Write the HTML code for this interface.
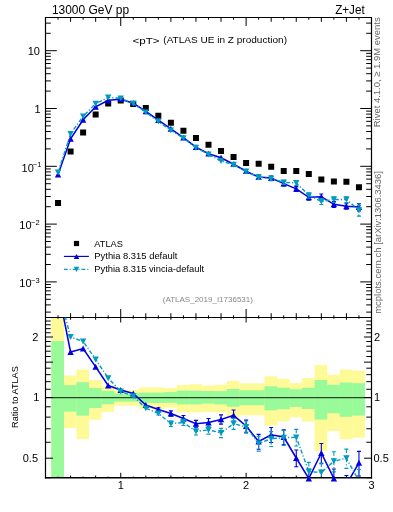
<!DOCTYPE html><html><head><meta charset="utf-8"><style>html,body{margin:0;padding:0;background:#fff;overflow:hidden;}svg{display:block;will-change:transform;}text{font-family:"Liberation Sans", sans-serif;}</style></head><body>
<svg width="393" height="512" viewBox="0 0 393 512">
<defs><clipPath id="cm"><rect x="45.5" y="17.5" width="326.0" height="300.0"/></clipPath><clipPath id="cr"><rect x="45.5" y="317.5" width="326.0" height="160.3"/></clipPath></defs>
<g clip-path="url(#cr)">
<rect x="51.27" y="317" width="12.74" height="160.00" fill="#fffa98"/>
<rect x="63.81" y="375.5" width="12.74" height="52.40" fill="#fffa98"/>
<rect x="76.35" y="369.5" width="12.74" height="69.50" fill="#fffa98"/>
<rect x="88.88" y="380" width="12.74" height="39.70" fill="#fffa98"/>
<rect x="101.42" y="386.5" width="12.74" height="25.40" fill="#fffa98"/>
<rect x="113.96" y="390" width="12.74" height="15.80" fill="#fffa98"/>
<rect x="126.50" y="390" width="12.74" height="15.80" fill="#fffa98"/>
<rect x="139.04" y="387.4" width="12.74" height="21.60" fill="#fffa98"/>
<rect x="151.57" y="387.4" width="12.74" height="21.60" fill="#fffa98"/>
<rect x="164.11" y="388" width="12.74" height="19.60" fill="#fffa98"/>
<rect x="176.65" y="385" width="12.74" height="27.40" fill="#fffa98"/>
<rect x="189.19" y="384.2" width="12.74" height="28.20" fill="#fffa98"/>
<rect x="201.73" y="385.6" width="12.74" height="26.40" fill="#fffa98"/>
<rect x="214.26" y="384.8" width="12.74" height="27.40" fill="#fffa98"/>
<rect x="226.80" y="380.9" width="12.74" height="36.00" fill="#fffa98"/>
<rect x="239.34" y="383.3" width="12.74" height="32.00" fill="#fffa98"/>
<rect x="251.88" y="383.3" width="12.74" height="32.00" fill="#fffa98"/>
<rect x="264.42" y="376.3" width="12.74" height="49.20" fill="#fffa98"/>
<rect x="276.95" y="378.7" width="12.74" height="42.70" fill="#fffa98"/>
<rect x="289.49" y="383" width="12.74" height="34.40" fill="#fffa98"/>
<rect x="302.03" y="378" width="12.74" height="43.50" fill="#fffa98"/>
<rect x="314.57" y="365" width="12.74" height="86.00" fill="#fffa98"/>
<rect x="327.11" y="374.7" width="12.74" height="56.30" fill="#fffa98"/>
<rect x="339.64" y="369.5" width="12.74" height="69.80" fill="#fffa98"/>
<rect x="352.18" y="370.6" width="12.74" height="67.00" fill="#fffa98"/>
<rect x="51.27" y="341" width="12.74" height="136.00" fill="#98fa98"/>
<rect x="63.81" y="385.2" width="12.74" height="26.40" fill="#98fa98"/>
<rect x="76.35" y="382.2" width="12.74" height="33.40" fill="#98fa98"/>
<rect x="88.88" y="388" width="12.74" height="20.00" fill="#98fa98"/>
<rect x="101.42" y="390.9" width="12.74" height="13.40" fill="#98fa98"/>
<rect x="113.96" y="393.4" width="12.74" height="8.20" fill="#98fa98"/>
<rect x="126.50" y="393.4" width="12.74" height="8.20" fill="#98fa98"/>
<rect x="139.04" y="392.6" width="12.74" height="10.40" fill="#98fa98"/>
<rect x="151.57" y="392.6" width="12.74" height="10.40" fill="#98fa98"/>
<rect x="164.11" y="392.1" width="12.74" height="10.70" fill="#98fa98"/>
<rect x="176.65" y="390.6" width="12.74" height="13.80" fill="#98fa98"/>
<rect x="189.19" y="390.6" width="12.74" height="13.80" fill="#98fa98"/>
<rect x="201.73" y="391" width="12.74" height="12.60" fill="#98fa98"/>
<rect x="214.26" y="391.1" width="12.74" height="13.30" fill="#98fa98"/>
<rect x="226.80" y="389" width="12.74" height="17.70" fill="#98fa98"/>
<rect x="239.34" y="390.3" width="12.74" height="14.90" fill="#98fa98"/>
<rect x="251.88" y="390.3" width="12.74" height="14.90" fill="#98fa98"/>
<rect x="264.42" y="386.3" width="12.74" height="24.00" fill="#98fa98"/>
<rect x="276.95" y="387.7" width="12.74" height="21.50" fill="#98fa98"/>
<rect x="289.49" y="389.3" width="12.74" height="17.60" fill="#98fa98"/>
<rect x="302.03" y="387.8" width="12.74" height="21.20" fill="#98fa98"/>
<rect x="314.57" y="380" width="12.74" height="39.50" fill="#98fa98"/>
<rect x="327.11" y="384.8" width="12.74" height="28.40" fill="#98fa98"/>
<rect x="339.64" y="382.5" width="12.74" height="34.30" fill="#98fa98"/>
<rect x="352.18" y="383.2" width="12.74" height="32.40" fill="#98fa98"/>
<line x1="45.5" y1="397.6" x2="371.5" y2="397.6" stroke="#000" stroke-opacity="0.72" stroke-width="1.4"/>
</g>
<g fill="none" stroke="#000" stroke-width="1.2">
<path d="M45.5 17.5H371.5M45.5 317.5H371.5M45.5 16.9V478.6M371.5 16.9V478.6"/>
<path d="M44.9 477.8H372.1" stroke-width="1.5"/>
</g>
<path d="M58.04 17.5v2.2M58.04 317.5v-2.2M58.04 317.5v1.2M58.04 477.8v-1.2M70.58 17.5v4.3M70.58 317.5v-4.3M70.58 317.5v2.3M70.58 477.8v-2.3M83.11 17.5v2.2M83.11 317.5v-2.2M83.11 317.5v1.2M83.11 477.8v-1.2M95.65 17.5v4.3M95.65 317.5v-4.3M95.65 317.5v2.3M95.65 477.8v-2.3M108.19 17.5v2.2M108.19 317.5v-2.2M108.19 317.5v1.2M108.19 477.8v-1.2M120.73 17.5v8.5M120.73 317.5v-8.5M120.73 317.5v5.0M120.73 477.8v-5.0M133.27 17.5v2.2M133.27 317.5v-2.2M133.27 317.5v1.2M133.27 477.8v-1.2M145.80 17.5v4.3M145.80 317.5v-4.3M145.80 317.5v2.3M145.80 477.8v-2.3M158.34 17.5v2.2M158.34 317.5v-2.2M158.34 317.5v1.2M158.34 477.8v-1.2M170.88 17.5v4.3M170.88 317.5v-4.3M170.88 317.5v2.3M170.88 477.8v-2.3M183.42 17.5v2.2M183.42 317.5v-2.2M183.42 317.5v1.2M183.42 477.8v-1.2M195.96 17.5v4.3M195.96 317.5v-4.3M195.96 317.5v2.3M195.96 477.8v-2.3M208.49 17.5v2.2M208.49 317.5v-2.2M208.49 317.5v1.2M208.49 477.8v-1.2M221.03 17.5v4.3M221.03 317.5v-4.3M221.03 317.5v2.3M221.03 477.8v-2.3M233.57 17.5v2.2M233.57 317.5v-2.2M233.57 317.5v1.2M233.57 477.8v-1.2M246.11 17.5v8.5M246.11 317.5v-8.5M246.11 317.5v5.0M246.11 477.8v-5.0M258.65 17.5v2.2M258.65 317.5v-2.2M258.65 317.5v1.2M258.65 477.8v-1.2M271.18 17.5v4.3M271.18 317.5v-4.3M271.18 317.5v2.3M271.18 477.8v-2.3M283.72 17.5v2.2M283.72 317.5v-2.2M283.72 317.5v1.2M283.72 477.8v-1.2M296.26 17.5v4.3M296.26 317.5v-4.3M296.26 317.5v2.3M296.26 477.8v-2.3M308.80 17.5v2.2M308.80 317.5v-2.2M308.80 317.5v1.2M308.80 477.8v-1.2M321.34 17.5v4.3M321.34 317.5v-4.3M321.34 317.5v2.3M321.34 477.8v-2.3M333.87 17.5v2.2M333.87 317.5v-2.2M333.87 317.5v1.2M333.87 477.8v-1.2M346.41 17.5v4.3M346.41 317.5v-4.3M346.41 317.5v2.3M346.41 477.8v-2.3M358.95 17.5v2.2M358.95 317.5v-2.2M358.95 317.5v1.2M358.95 477.8v-1.2M45.5 312.12h5.3M371.5 312.12h-5.3M45.5 304.90h5.3M371.5 304.90h-5.3M45.5 299.30h5.3M371.5 299.30h-5.3M45.5 294.72h5.3M371.5 294.72h-5.3M45.5 290.85h5.3M371.5 290.85h-5.3M45.5 287.50h5.3M371.5 287.50h-5.3M45.5 284.54h5.3M371.5 284.54h-5.3M45.5 281.90h11.3M371.5 281.90h-11.3M45.5 264.50h5.3M371.5 264.50h-5.3M45.5 254.32h5.3M371.5 254.32h-5.3M45.5 247.10h5.3M371.5 247.10h-5.3M45.5 241.50h5.3M371.5 241.50h-5.3M45.5 236.92h5.3M371.5 236.92h-5.3M45.5 233.05h5.3M371.5 233.05h-5.3M45.5 229.70h5.3M371.5 229.70h-5.3M45.5 226.74h5.3M371.5 226.74h-5.3M45.5 224.10h11.3M371.5 224.10h-11.3M45.5 206.70h5.3M371.5 206.70h-5.3M45.5 196.52h5.3M371.5 196.52h-5.3M45.5 189.30h5.3M371.5 189.30h-5.3M45.5 183.70h5.3M371.5 183.70h-5.3M45.5 179.12h5.3M371.5 179.12h-5.3M45.5 175.25h5.3M371.5 175.25h-5.3M45.5 171.90h5.3M371.5 171.90h-5.3M45.5 168.94h5.3M371.5 168.94h-5.3M45.5 166.30h11.3M371.5 166.30h-11.3M45.5 148.90h5.3M371.5 148.90h-5.3M45.5 138.72h5.3M371.5 138.72h-5.3M45.5 131.50h5.3M371.5 131.50h-5.3M45.5 125.90h5.3M371.5 125.90h-5.3M45.5 121.32h5.3M371.5 121.32h-5.3M45.5 117.45h5.3M371.5 117.45h-5.3M45.5 114.10h5.3M371.5 114.10h-5.3M45.5 111.14h5.3M371.5 111.14h-5.3M45.5 108.50h11.3M371.5 108.50h-11.3M45.5 91.10h5.3M371.5 91.10h-5.3M45.5 80.92h5.3M371.5 80.92h-5.3M45.5 73.70h5.3M371.5 73.70h-5.3M45.5 68.10h5.3M371.5 68.10h-5.3M45.5 63.52h5.3M371.5 63.52h-5.3M45.5 59.65h5.3M371.5 59.65h-5.3M45.5 56.30h5.3M371.5 56.30h-5.3M45.5 53.34h5.3M371.5 53.34h-5.3M45.5 50.70h11.3M371.5 50.70h-11.3M45.5 33.30h5.3M371.5 33.30h-5.3M45.5 23.12h5.3M371.5 23.12h-5.3M45.5 477.71h5.2M371.5 477.71h-5.2M45.5 458.20h7.5M371.5 458.20h-7.5M45.5 442.26h5.2M371.5 442.26h-5.2M45.5 428.78h5.2M371.5 428.78h-5.2M45.5 417.11h5.2M371.5 417.11h-5.2M45.5 406.81h5.2M371.5 406.81h-5.2M45.5 397.60h7.5M371.5 397.60h-7.5M45.5 389.27h5.2M371.5 389.27h-5.2M45.5 381.66h5.2M371.5 381.66h-5.2M45.5 374.66h5.2M371.5 374.66h-5.2M45.5 368.18h5.2M371.5 368.18h-5.2M45.5 362.15h7.5M371.5 362.15h-7.5M45.5 356.51h5.2M371.5 356.51h-5.2M45.5 351.21h5.2M371.5 351.21h-5.2M45.5 346.21h5.2M371.5 346.21h-5.2M45.5 341.49h5.2M371.5 341.49h-5.2M45.5 337.00h7.5M371.5 337.00h-7.5M45.5 332.74h5.2M371.5 332.74h-5.2M45.5 328.67h5.2M371.5 328.67h-5.2M45.5 324.78h5.2M371.5 324.78h-5.2M45.5 321.06h5.2M371.5 321.06h-5.2M45.5 317.49h5.2M371.5 317.49h-5.2" stroke="#000" stroke-width="1.0" fill="none"/>
<path d="M55.04 200.00h6v6h-6ZM67.58 148.40h6v6h-6ZM80.12 129.50h6v6h-6ZM92.65 111.50h6v6h-6ZM105.19 100.50h6v6h-6ZM117.73 97.50h6v6h-6ZM130.27 101.00h6v6h-6ZM142.81 105.00h6v6h-6ZM155.34 112.80h6v6h-6ZM167.88 119.80h6v6h-6ZM180.42 127.80h6v6h-6ZM192.96 134.90h6v6h-6ZM205.50 141.80h6v6h-6ZM218.03 147.90h6v6h-6ZM230.57 153.90h6v6h-6ZM243.11 159.90h6v6h-6ZM255.65 160.70h6v6h-6ZM268.19 163.70h6v6h-6ZM280.72 168.00h6v6h-6ZM293.26 168.00h6v6h-6ZM305.80 171.00h6v6h-6ZM318.34 176.50h6v6h-6ZM330.88 178.50h6v6h-6ZM343.41 178.70h6v6h-6ZM355.95 184.20h6v6h-6Z" fill="#000"/>
<g clip-path="url(#cm)">
<polyline points="58.04,174.5 70.58,138.8 83.12,119.8 95.65,106.8 108.19,100.3 120.73,99.2 133.27,103.2 145.81,111.3 158.34,120.2 170.88,128.89999999999998 183.42,137.7 195.96,147.2 208.50,153.7 221.03,157.7 233.57,164.2 246.11,171.2 258.65,177.0 271.19,178.1 283.72,183.6 296.26,188.89999999999998 308.80,197.29999999999998 321.34,196.7 333.88,204.29999999999998 346.41,206.29999999999998 358.95,207.1" fill="none" stroke="#0000e0" stroke-width="1.55"/>
<path d="M233.57 162.67V165.83M231.57 162.67h4M231.57 165.83h4M246.11 169.53V172.99M244.11 169.53h4M244.11 172.99h4M258.65 174.95V179.23M256.65 174.95h4M256.65 179.23h4M271.19 176.05V180.33M269.19 176.05h4M269.19 180.33h4M283.72 181.55V185.83M281.72 181.55h4M281.72 185.83h4M296.26 186.62V191.41M294.26 186.62h4M294.26 191.41h4M308.80 194.68V200.23M306.80 194.68h4M306.80 200.23h4M321.34 193.97V199.77M319.34 193.97h4M319.34 199.77h4M333.88 201.57V207.37M331.88 201.57h4M331.88 207.37h4M346.41 203.68V209.23M344.41 203.68h4M344.41 209.23h4M358.95 203.81V210.89M356.95 203.81h4M356.95 210.89h4" stroke="#0000e0" stroke-width="1.1" fill="none"/>
</g>
<path d="M54.84 177.38L61.24 177.38L58.04 171.46ZM67.38 141.68L73.78 141.68L70.58 135.76ZM79.92 122.68L86.32 122.68L83.12 116.76ZM92.45 109.68L98.85 109.68L95.65 103.76ZM104.99 103.18L111.39 103.18L108.19 97.26ZM117.53 102.08L123.93 102.08L120.73 96.16ZM130.07 106.08L136.47 106.08L133.27 100.16ZM142.61 114.18L149.01 114.18L145.81 108.26ZM155.14 123.08L161.54 123.08L158.34 117.16ZM167.68 131.78L174.08 131.78L170.88 125.86ZM180.22 140.58L186.62 140.58L183.42 134.66ZM192.76 150.08L199.16 150.08L195.96 144.16ZM205.30 156.58L211.70 156.58L208.50 150.66ZM217.83 160.58L224.23 160.58L221.03 154.66ZM230.37 167.08L236.77 167.08L233.57 161.16ZM242.91 174.08L249.31 174.08L246.11 168.16ZM255.45 179.88L261.85 179.88L258.65 173.96ZM267.99 180.98L274.39 180.98L271.19 175.06ZM280.52 186.48L286.92 186.48L283.72 180.56ZM293.06 191.78L299.46 191.78L296.26 185.86ZM305.60 200.18L312.00 200.18L308.80 194.26ZM318.14 199.58L324.54 199.58L321.34 193.66ZM330.68 207.18L337.08 207.18L333.88 201.26ZM343.21 209.18L349.61 209.18L346.41 203.26ZM355.75 209.98L362.15 209.98L358.95 204.06Z" fill="#0000e0"/>
<g clip-path="url(#cm)">
<polyline points="58.04,172.4 70.58,133.8 83.12,116.3 95.65,103.6 108.19,97.5 120.73,98.3 133.27,103.5 145.81,112.30000000000001 158.34,121.4 170.88,130.3 183.42,138.20000000000002 195.96,147.70000000000002 208.50,154.4 221.03,160.9 233.57,164.70000000000002 246.11,171.4 258.65,177.20000000000002 271.19,178.5 283.72,182.3 296.26,183.0 308.80,195.3 321.34,201.4 333.88,199.5 346.41,199.5 358.95,210.20000000000002" fill="none" stroke="#009bbf" stroke-width="1.4" stroke-dasharray="4 2 1.2 2"/>
<path d="M233.57 163.17V166.33M231.57 163.17h4M231.57 166.33h4M246.11 169.73V173.19M244.11 169.73h4M244.11 173.19h4M258.65 175.15V179.43M256.65 175.15h4M256.65 179.43h4M271.19 176.45V180.73M269.19 176.45h4M269.19 180.73h4M283.72 180.25V184.53M281.72 180.25h4M281.72 184.53h4M296.26 180.72V185.51M294.26 180.72h4M294.26 185.51h4M308.80 192.68V198.23M306.80 192.68h4M306.80 198.23h4M321.34 198.67V204.47M319.34 198.67h4M319.34 204.47h4M333.88 196.77V202.57M331.88 196.77h4M331.88 202.57h4M346.41 196.88V202.43M344.41 196.88h4M344.41 202.43h4M358.95 205.42V216.12M356.95 205.42h4M356.95 216.12h4" stroke="#009bbf" stroke-width="1.1" fill="none" stroke-dasharray="4 2 1.2 2"/>
</g>
<path d="M54.84 169.52L61.24 169.52L58.04 175.44ZM67.38 130.92L73.78 130.92L70.58 136.84ZM79.92 113.42L86.32 113.42L83.12 119.34ZM92.45 100.72L98.85 100.72L95.65 106.64ZM104.99 94.62L111.39 94.62L108.19 100.54ZM117.53 95.42L123.93 95.42L120.73 101.34ZM130.07 100.62L136.47 100.62L133.27 106.54ZM142.61 109.42L149.01 109.42L145.81 115.34ZM155.14 118.52L161.54 118.52L158.34 124.44ZM167.68 127.42L174.08 127.42L170.88 133.34ZM180.22 135.32L186.62 135.32L183.42 141.24ZM192.76 144.82L199.16 144.82L195.96 150.74ZM205.30 151.52L211.70 151.52L208.50 157.44ZM217.83 158.02L224.23 158.02L221.03 163.94ZM230.37 161.82L236.77 161.82L233.57 167.74ZM242.91 168.52L249.31 168.52L246.11 174.44ZM255.45 174.32L261.85 174.32L258.65 180.24ZM267.99 175.62L274.39 175.62L271.19 181.54ZM280.52 179.42L286.92 179.42L283.72 185.34ZM293.06 180.12L299.46 180.12L296.26 186.04ZM305.60 192.42L312.00 192.42L308.80 198.34ZM318.14 198.52L324.54 198.52L321.34 204.44ZM330.68 196.62L337.08 196.62L333.88 202.54ZM343.21 196.62L349.61 196.62L346.41 202.54ZM355.75 207.32L362.15 207.32L358.95 213.24Z" fill="#009bbf"/>
<g clip-path="url(#cr)">
<polyline points="58.04,289.7 70.58,352 83.12,348.6 95.65,366.9 108.19,385.5 120.73,390 133.27,393.5 145.81,405 158.34,409.6 170.88,413.5 183.42,418.5 195.96,423.8 208.50,422.5 221.03,419.4 233.57,415.3 246.11,426 258.65,441.5 271.19,434.7 283.72,437 296.26,458 308.80,478.5 321.34,453 333.88,478.5 346.41,484.6 358.95,462.8" fill="none" stroke="#0000e0" stroke-width="1.55"/>
<path d="M158.34 407.87V411.37M156.34 407.87h4M156.34 411.37h4M170.88 410.83V416.25M168.88 410.83h4M168.88 416.25h4M183.42 415.49V421.61M181.42 415.49h4M181.42 421.61h4M195.96 420.37V427.37M193.96 420.37h4M193.96 427.37h4M208.50 418.48V426.71M206.50 418.48h4M206.50 426.71h4M221.03 414.89V424.16M219.03 414.89h4M219.03 424.16h4M233.57 409.96V420.99M231.57 409.96h4M231.57 420.99h4M246.11 420.17V432.25M244.11 420.17h4M244.11 432.25h4M258.65 434.37V449.27M256.65 434.37h4M256.65 449.27h4M271.19 427.57V442.47M269.19 427.57h4M269.19 442.47h4M283.72 429.87V444.77M281.72 429.87h4M281.72 444.77h4M296.26 450.07V466.73M294.26 450.07h4M294.26 466.73h4M308.80 469.38V488.69M306.80 469.38h4M306.80 488.69h4M321.34 443.48V463.68M319.34 443.48h4M319.34 463.68h4M333.88 468.98V489.18M331.88 468.98h4M331.88 489.18h4M346.41 475.48V494.79M344.41 475.48h4M344.41 494.79h4M358.95 451.35V475.99M356.95 451.35h4M356.95 475.99h4" stroke="#0000e0" stroke-width="1.1" fill="none"/>
</g>
<path d="M67.38 354.88L73.78 354.88L70.58 348.96ZM79.92 351.48L86.32 351.48L83.12 345.56ZM92.45 369.78L98.85 369.78L95.65 363.86ZM104.99 388.38L111.39 388.38L108.19 382.46ZM117.53 392.88L123.93 392.88L120.73 386.96ZM130.07 396.38L136.47 396.38L133.27 390.46ZM142.61 407.88L149.01 407.88L145.81 401.96ZM155.14 412.48L161.54 412.48L158.34 406.56ZM167.68 416.38L174.08 416.38L170.88 410.46ZM180.22 421.38L186.62 421.38L183.42 415.46ZM192.76 426.68L199.16 426.68L195.96 420.76ZM205.30 425.38L211.70 425.38L208.50 419.46ZM217.83 422.28L224.23 422.28L221.03 416.36ZM230.37 418.18L236.77 418.18L233.57 412.26ZM242.91 428.88L249.31 428.88L246.11 422.96ZM255.45 444.38L261.85 444.38L258.65 438.46ZM267.99 437.58L274.39 437.58L271.19 431.66ZM280.52 439.88L286.92 439.88L283.72 433.96ZM293.06 460.88L299.46 460.88L296.26 454.96ZM305.60 481.38L312.00 481.38L308.80 475.46ZM318.14 455.88L324.54 455.88L321.34 449.96ZM330.68 481.38L337.08 481.38L333.88 475.46ZM355.75 465.68L362.15 465.68L358.95 459.76Z" fill="#0000e0"/>
<g clip-path="url(#cr)">
<polyline points="58.04,289.5 70.58,337 83.12,341.4 95.65,359.4 108.19,378.1 120.73,391.4 133.27,396.2 145.81,408.3 158.34,413.3 170.88,423.7 183.42,422.4 195.96,431.4 208.50,429.9 221.03,432.9 233.57,423.7 246.11,426.9 258.65,443.4 271.19,438.8 283.72,437.7 296.26,437.3 308.80,471.5 321.34,472.5 333.88,461.2 346.41,458.2 358.95,481" fill="none" stroke="#009bbf" stroke-width="1.4" stroke-dasharray="4 2 1.2 2"/>
<path d="M158.34 411.57V415.07M156.34 411.57h4M156.34 415.07h4M170.88 421.03V426.45M168.88 421.03h4M168.88 426.45h4M183.42 419.39V425.51M181.42 419.39h4M181.42 425.51h4M195.96 427.97V434.97M193.96 427.97h4M193.96 434.97h4M208.50 425.88V434.11M206.50 425.88h4M206.50 434.11h4M221.03 428.39V437.66M219.03 428.39h4M219.03 437.66h4M233.57 418.36V429.39M231.57 418.36h4M231.57 429.39h4M246.11 421.07V433.15M244.11 421.07h4M244.11 433.15h4M258.65 436.27V451.17M256.65 436.27h4M256.65 451.17h4M271.19 431.67V446.57M269.19 431.67h4M269.19 446.57h4M283.72 430.57V445.47M281.72 430.57h4M281.72 445.47h4M296.26 429.37V446.03M294.26 429.37h4M294.26 446.03h4M308.80 462.38V481.69M306.80 462.38h4M306.80 481.69h4M321.34 462.98V483.18M319.34 462.98h4M319.34 483.18h4M333.88 451.68V471.88M331.88 451.68h4M331.88 471.88h4M346.41 449.08V468.39M344.41 449.08h4M344.41 468.39h4M358.95 469.55V494.19M356.95 469.55h4M356.95 494.19h4" stroke="#009bbf" stroke-width="1.1" fill="none" stroke-dasharray="4 2 1.2 2"/>
</g>
<path d="M67.38 334.12L73.78 334.12L70.58 340.04ZM79.92 338.52L86.32 338.52L83.12 344.44ZM92.45 356.52L98.85 356.52L95.65 362.44ZM104.99 375.22L111.39 375.22L108.19 381.14ZM117.53 388.52L123.93 388.52L120.73 394.44ZM130.07 393.32L136.47 393.32L133.27 399.24ZM142.61 405.42L149.01 405.42L145.81 411.34ZM155.14 410.42L161.54 410.42L158.34 416.34ZM167.68 420.82L174.08 420.82L170.88 426.74ZM180.22 419.52L186.62 419.52L183.42 425.44ZM192.76 428.52L199.16 428.52L195.96 434.44ZM205.30 427.02L211.70 427.02L208.50 432.94ZM217.83 430.02L224.23 430.02L221.03 435.94ZM230.37 420.82L236.77 420.82L233.57 426.74ZM242.91 424.02L249.31 424.02L246.11 429.94ZM255.45 440.52L261.85 440.52L258.65 446.44ZM267.99 435.92L274.39 435.92L271.19 441.84ZM280.52 434.82L286.92 434.82L283.72 440.74ZM293.06 434.42L299.46 434.42L296.26 440.34ZM305.60 468.62L312.00 468.62L308.80 474.54ZM318.14 469.62L324.54 469.62L321.34 475.54ZM330.68 458.32L337.08 458.32L333.88 464.24ZM343.21 455.32L349.61 455.32L346.41 461.24Z" fill="#009bbf"/>
<rect x="73.9" y="240.9" width="5.2" height="5.2" fill="#000"/>
<line x1="63.9" y1="256.4" x2="88.9" y2="256.4" stroke="#0000e0" stroke-width="1.15"/>
<path d="M73.70 259.12L79.30 259.12L76.50 253.94Z" fill="#0000e0"/>
<line x1="63.9" y1="269.4" x2="88.9" y2="269.4" stroke="#009bbf" stroke-width="1.15" stroke-dasharray="3.8 2 1 2"/>
<path d="M73.70 266.78L79.30 266.78L76.50 271.96Z" fill="#009bbf"/>
<text x="94.3" y="246.8" font-size="9.6" textLength="28.6" lengthAdjust="spacingAndGlyphs">ATLAS</text>
<text x="94.3" y="259.2" font-size="9.6" textLength="83.1" lengthAdjust="spacingAndGlyphs">Pythia 8.315 default</text>
<text x="94.3" y="272.0" font-size="9.6" textLength="109.8" lengthAdjust="spacingAndGlyphs">Pythia 8.315 vincia-default</text>
<text x="162.8" y="302" font-size="8" fill="#888" textLength="90.1" lengthAdjust="spacingAndGlyphs">(ATLAS_2019_I1736531)</text>
<text x="51.9" y="13.7" font-size="12.2" textLength="77.2" lengthAdjust="spacingAndGlyphs">13000 GeV pp</text>
<text x="335.2" y="13.7" font-size="12.2" textLength="29.5" lengthAdjust="spacingAndGlyphs">Z+Jet</text>
<text x="132.5" y="43.5" font-size="9.8" textLength="27" lengthAdjust="spacingAndGlyphs">&lt;pT&gt;</text>
<text x="163.3" y="43.3" font-size="9.9" textLength="123.7" lengthAdjust="spacingAndGlyphs">(ATLAS UE in Z production)</text>
<text transform="translate(380.3,127.3) rotate(-90)" font-size="9.5" fill="#666" textLength="110" lengthAdjust="spacingAndGlyphs">Rivet 4.1.0, ≥ 1.9M events</text>
<text transform="translate(381.2,313.8) rotate(-90)" font-size="9.4" fill="#666" textLength="66.3" lengthAdjust="spacingAndGlyphs">mcplots.cern.ch</text>
<text transform="translate(381.2,244.8) rotate(-90)" font-size="9.4" fill="#666" textLength="73.6" lengthAdjust="spacingAndGlyphs">[arXiv:1306.3436]</text>
<text transform="translate(18.3,427.9) rotate(-90)" font-size="9.4" textLength="61.7" lengthAdjust="spacingAndGlyphs">Ratio to ATLAS</text>
<text x="39.9" y="55.4" font-size="11" text-anchor="end" >10</text>
<text x="40.5" y="112.7" font-size="11" text-anchor="end" >1</text>
<text x="33.8" y="171.90" font-size="11" text-anchor="end">10</text>
<text x="32.8" y="167.10" font-size="7.5">−1</text>
<text x="31.6" y="228.70" font-size="11" text-anchor="end">10</text>
<text x="31.0" y="224.90" font-size="7.5">−2</text>
<text x="31.6" y="286.50" font-size="11" text-anchor="end">10</text>
<text x="31.0" y="282.70" font-size="7.5">−3</text>
<text x="38.3" y="340.6" font-size="11" text-anchor="end" >2</text>
<text x="39.3" y="401.2" font-size="11" text-anchor="end" >1</text>
<text x="38.0" y="462.2" font-size="11" text-anchor="end" >0.5</text>
<text x="374.0" y="340.6" font-size="11" text-anchor="start" >2</text>
<text x="374.0" y="401.2" font-size="11" text-anchor="start" >1</text>
<text x="373.5" y="462.2" font-size="11" text-anchor="start" >0.5</text>
<text x="120.7" y="488.9" font-size="11" text-anchor="middle" >1</text>
<text x="246.1" y="488.9" font-size="11" text-anchor="middle" >2</text>
<text x="371.5" y="488.9" font-size="11" text-anchor="middle" >3</text>
</svg></body></html>
